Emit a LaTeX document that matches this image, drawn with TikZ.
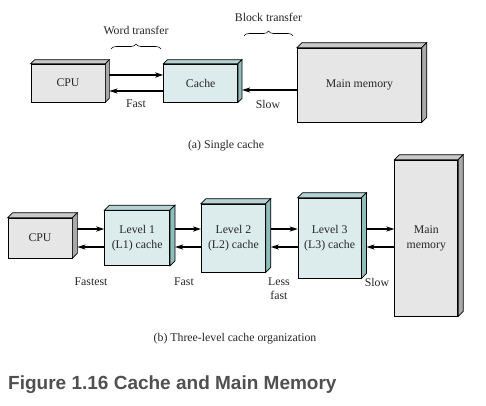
\documentclass[tikz,border=0pt]{standalone}
\usepackage{fontspec}
\setmainfont{Liberation Serif}
\newfontfamily\captionfont{Liberation Sans}
\usepackage{xcolor}
\usetikzlibrary{arrows.meta, positioning, decorations.pathreplacing}
\definecolor{memfill}{HTML}{E6E6E6}
\definecolor{memtop}{HTML}{C9C9C9}
\definecolor{memside}{HTML}{A9A9A9}
\definecolor{cachefill}{HTML}{DCECEC}
\definecolor{cachetop}{HTML}{B4D4D4}
\definecolor{cacheside}{HTML}{8FBDBD}
\definecolor{titlegrey}{HTML}{505050}
\tikzset{
    unit/.style={rectangle, draw=black, line width=0.7pt, inner sep=0pt, align=center, text=black!85, font=\fontsize{11.8}{15}\selectfont},
    membox/.style={unit, fill=memfill},
    cachebox/.style={unit, fill=cachefill},
    mem top/.style={draw=black, line width=0.7pt, fill=memtop},
    mem side/.style={draw=black, line width=0.7pt, fill=memside},
    cache top/.style={draw=black, line width=0.7pt, fill=cachetop},
    cache side/.style={draw=black, line width=0.7pt, fill=cacheside},
    arrow/.style={line width=1.7pt, -{Stealth[length=8pt,width=5pt,inset=2pt]}},
    lbl/.style={inner sep=0pt, align=center, text=black!85, font=\fontsize{11.8}{14}\selectfont},
    brc/.style={decorate, decoration={brace, amplitude=5pt}, line width=0.6pt},
}
\begin{document}
\begin{tikzpicture}[x=1pt,y=-1pt]
  \fill[white] (0,0) rectangle (486,405);
  \useasboundingbox (0,0) rectangle (486,405);

  % (a) single cache
  \node[membox, minimum width=74pt, minimum height=38pt]   (cpuA)   at (68,83) {CPU};
  \node[cachebox, minimum width=74pt, minimum height=38pt] (cacheA) [right=58pt of cpuA] {Cache};
  \node[membox, minimum width=124pt, minimum height=74pt]  (memA)   [right=59pt of cacheA, yshift=-2pt] {Main memory};

  % (b) three-level cache
  \node[membox, minimum width=64pt, minimum height=40pt]    (cpuB)   at (40,238) {CPU};
  \node[cachebox, minimum width=65pt, minimum height=55pt]  (lone)   [right=32pt of cpuB] {Level 1\\(L1) cache};
  \node[cachebox, minimum width=64pt, minimum height=68pt]  (ltwo)   [right=31pt of lone] {Level 2\\(L2) cache};
  \node[cachebox, minimum width=63pt, minimum height=80pt]  (lthree) [right=32pt of ltwo] {Level 3\\(L3) cache};
  \node[membox, minimum width=63pt, minimum height=156pt]   (memB)   [right=33pt of lthree] {Main\\memory};

  % depth faces
  \foreach \n/\d/\s in {cpuA/4/mem, cacheA/4/cache, memA/5/mem, cpuB/5/mem, lone/5/cache, ltwo/5/cache, lthree/5/cache, memB/5/mem} {
    \filldraw[\s\space top] (\n.north west) -- ++(\d,-\d) -- ([shift={(\d,-\d)}]\n.north east) -- (\n.north east) -- cycle;
    \filldraw[\s\space side] (\n.north east) -- ++(\d,-\d) -- ([shift={(\d,-\d)}]\n.south east) -- (\n.south east) -- cycle;
  }

  % transfers
  \draw[arrow] ([xshift=4pt,yshift=8pt]cpuA.east) -- ([yshift=8pt]cacheA.west);
  \draw[arrow] ([yshift=-8pt]cacheA.west) -- ([xshift=4pt,yshift=-8pt]cpuA.east);
  \coordinate (slowA) at ([xshift=4pt,yshift=-7pt]cacheA.east);
  \draw[arrow] (memA.west |- slowA) -- (slowA);

  \foreach \a/\b in {cpuB/lone, lone/ltwo, ltwo/lthree, lthree/memB} {
    \draw[arrow] ([xshift=5pt,yshift=9pt]\a.east) -- ([yshift=9pt]\b.west);
    \draw[arrow] ([yshift=-9pt]\b.west) -- ([xshift=5pt,yshift=-9pt]\a.east);
  }

  % braces
  \coordinate (wordL) at (111,49);
  \coordinate (wordR) at (161,49);
  \coordinate (blockL) at (244,36);
  \coordinate (blockR) at (293,36);
  \draw[brc] (wordL) -- (wordR) node[lbl, midway, yshift=19pt] {Word transfer};
  \draw[brc] (blockL) -- (blockR) node[lbl, midway, yshift=19pt] {Block transfer};

  % speed labels
  \node[lbl] (fastA)   at (136,104) {Fast};
  \node[lbl] (slowtxt) at (268,104) {Slow};
  \node[lbl] (fastest) at (91,282) {Fastest};
  \node[lbl] (fastB)   at (184,282) {Fast};
  \node[lbl] (lessf)   at (279,288.5) {Less\\fast};
  \node[lbl] (slowB)   at (377,282) {Slow};

  % captions
  \node[lbl] (capA) at (226,146) {(a) Single cache};
  \node[lbl] (capB) at (235,339) {(b) Three-level cache organization};
  \node[anchor=base west, inner sep=0pt, text=titlegrey, font=\captionfont\bfseries\fontsize{19}{22}\selectfont] (title) at (8,389) {Figure 1.16 Cache and Main Memory};
\end{tikzpicture}
\end{document}
